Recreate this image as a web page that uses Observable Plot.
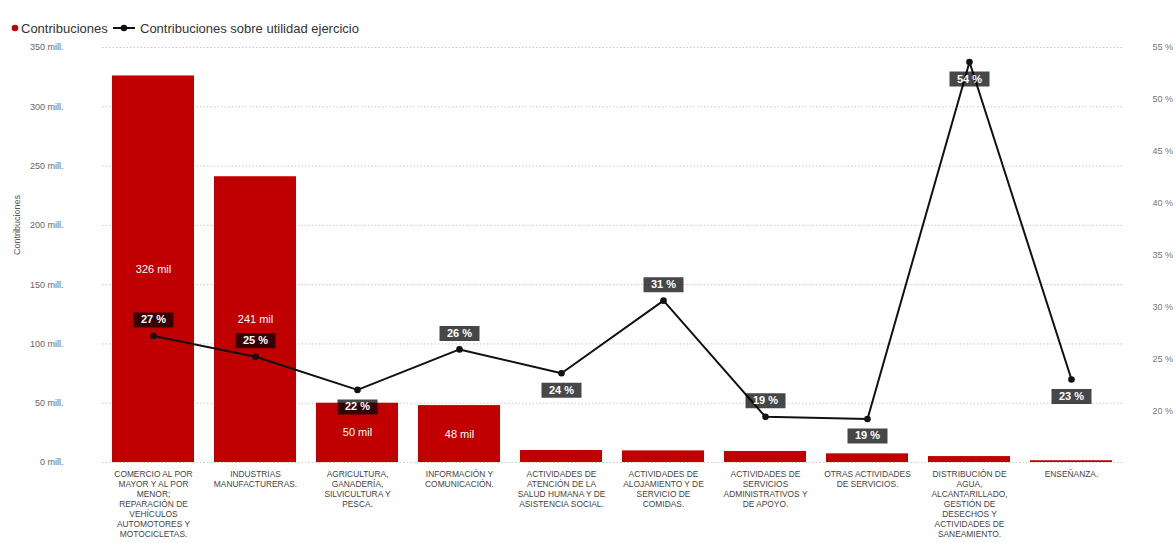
<!DOCTYPE html>
<html>
<head>
<meta charset="utf-8">
<script src="https://cdn.jsdelivr.net/npm/d3@7"></script>
<script src="https://cdn.jsdelivr.net/npm/@observablehq/plot@0.6"></script>
<style>
  html, body { margin: 0; padding: 0; background: #fff; }
  body { width: 1176px; height: 543px; overflow: hidden; font-family: "Liberation Sans", Arial, sans-serif; }
  #legend { display: block; }
  #chart svg { display: block; }
</style>
</head>
<body>
<svg id="legend" width="1176" height="40"></svg>
<div id="chart"></div>
<script>
// ---------- data ----------
const categories = [
  "COMERCIO AL POR MAYOR Y AL POR MENOR; REPARACIÓN DE VEHÍCULOS AUTOMOTORES Y MOTOCICLETAS.",
  "INDUSTRIAS MANUFACTURERAS.",
  "AGRICULTURA, GANADERÍA, SILVICULTURA Y PESCA.",
  "INFORMACIÓN Y COMUNICACIÓN.",
  "ACTIVIDADES DE ATENCIÓN DE LA SALUD HUMANA Y DE ASISTENCIA SOCIAL.",
  "ACTIVIDADES DE ALOJAMIENTO Y DE SERVICIO DE COMIDAS.",
  "ACTIVIDADES DE SERVICIOS ADMINISTRATIVOS Y DE APOYO.",
  "OTRAS ACTIVIDADES DE SERVICIOS.",
  "DISTRIBUCIÓN DE AGUA, ALCANTARILLADO, GESTIÓN DE DESECHOS Y ACTIVIDADES DE SANEAMIENTO.",
  "ENSEÑANZA."
];
const tickLabels = [
  "COMERCIO AL POR\nMAYOR Y AL POR\nMENOR;\nREPARACIÓN DE\nVEHÍCULOS\nAUTOMOTORES Y\nMOTOCICLETAS.",
  "INDUSTRIAS\nMANUFACTURERAS.",
  "AGRICULTURA,\nGANADERÍA,\nSILVICULTURA Y\nPESCA.",
  "INFORMACIÓN Y\nCOMUNICACIÓN.",
  "ACTIVIDADES DE\nATENCIÓN DE LA\nSALUD HUMANA Y DE\nASISTENCIA SOCIAL.",
  "ACTIVIDADES DE\nALOJAMIENTO Y DE\nSERVICIO DE\nCOMIDAS.",
  "ACTIVIDADES DE\nSERVICIOS\nADMINISTRATIVOS Y\nDE APOYO.",
  "OTRAS ACTIVIDADES\nDE SERVICIOS.",
  "DISTRIBUCIÓN DE\nAGUA,\nALCANTARILLADO,\nGESTIÓN DE\nDESECHOS Y\nACTIVIDADES DE\nSANEAMIENTO.",
  "ENSEÑANZA."
];
// Contribuciones (millones)
const contribuciones = [326, 241, 50, 48, 10.1, 9.8, 9.3, 7.3, 5, 1.5];
const barLabels = ["326 mil", "241 mil", "50 mil", "48 mil", "", "", "", "", "", ""];
// Contribuciones sobre utilidad ejercicio (%)
const porcentajes = [27.2, 25.2, 22.0, 25.9, 23.6, 30.6, 19.4, 19.2, 53.6, 23.0];
const pctLabels = ["27 %", "25 %", "22 %", "26 %", "24 %", "31 %", "19 %", "19 %", "54 %", "23 %"];
const leftTicks = [0, 50, 100, 150, 200, 250, 300, 350];
const rightTicks = [20, 25, 30, 35, 40, 45, 50, 55];
const leftDomain = [0, 350];
const rightDomain = [15, 55];

// ---------- legend ----------
const font = "Liberation Sans, Arial, sans-serif";
const lg = d3.select("#legend");
lg.append("circle").attr("cx", 15).attr("cy", 28).attr("r", 3.3).attr("fill", "#c00000");
lg.append("text").attr("x", 21).attr("y", 32.5).attr("font-size", 13).attr("fill", "#333")
  .attr("font-family", font).text("Contribuciones");
lg.append("line").attr("x1", 113).attr("x2", 135).attr("y1", 28).attr("y2", 28).attr("stroke", "#111").attr("stroke-width", 2);
lg.append("circle").attr("cx", 124).attr("cy", 28).attr("r", 3.3).attr("fill", "#111");
lg.append("text").attr("x", 140).attr("y", 32.5).attr("font-size", 13).attr("fill", "#333")
  .attr("font-family", font).text("Contribuciones sobre utilidad ejercicio");

// ---------- chart ----------
const S = (leftDomain[1] - leftDomain[0]) / (rightDomain[1] - rightDomain[0]);
const toY = p => (p - rightDomain[0]) * S;

const data = categories.map((c, i) => ({
  c, v: contribuciones[i], p: porcentajes[i], bl: barLabels[i], pl: pctLabels[i], tl: tickLabels[i]
}));
// label below the point for local minima and for points near the top
data.forEach((d, i) => {
  const prev = i > 0 ? porcentajes[i - 1] : -Infinity;
  const next = i < porcentajes.length - 1 ? porcentajes[i + 1] : -Infinity;
  const localMin = d.p < prev && d.p < next || (i === porcentajes.length - 1 && d.p < prev);
  d.below = localMin || d.p > rightDomain[1] - 5;
});
const above = data.filter(d => !d.below);
const below = data.filter(d => d.below);

const box = { draw(ctx) { ctx.rect(-20, -7.5, 40, 15); } };

const chart = Plot.plot({
  width: 1176,
  height: 503,
  marginTop: 7,
  marginBottom: 81,
  marginLeft: 102,
  marginRight: 54,
  style: { fontFamily: font, background: "white" },
  x: { domain: categories, paddingInner: 0.2, paddingOuter: 0.1, axis: null },
  y: { domain: leftDomain, axis: null },
  marks: [
    Plot.gridY(leftTicks, { stroke: "#c8c8c8", strokeOpacity: 1, strokeDasharray: "1.5,2", strokeWidth: 1 }),
    Plot.axisY(leftTicks, {
      anchor: "left", tickSize: 0, tickPadding: 39, fontSize: 9, fill: "#666", label: null,
      tickFormat: d => `${d} mill.`
    }),
    Plot.text(["Contribuciones"], {
      frameAnchor: "left", dx: -85, rotate: -90, fontSize: 9, fill: "#555"
    }),
    Plot.axisY(rightTicks.map(toY), {
      anchor: "right", tickSize: 0, tickPadding: 30, fontSize: 9, fill: "#777", label: null,
      textAnchor: "start", tickFormat: d => `${Math.round(d / S + rightDomain[0])} %`
    }),
    Plot.barY(data, { x: "c", y: "v", fill: "#c00000" }),
    Plot.text(data.filter(d => d.bl), {
      x: "c", y: d => d.v / 2, text: "bl", fill: "white", fontSize: 11
    }),
    Plot.text(data, {
      x: "c", y: 0, text: "tl", lineAnchor: "top", dy: 7, fontSize: 8.4, lineHeight: 1.2, fill: "#444"
    }),
    Plot.line(data, { x: "c", y: d => toY(d.p), stroke: "#111", strokeWidth: 2 }),
    Plot.dot(data, { x: "c", y: d => toY(d.p), r: 3.3, fill: "#111" }),
    Plot.dot(above, { x: "c", y: d => toY(d.p), dy: -16, symbol: box, fill: "#000", fillOpacity: 0.72 }),
    Plot.text(above, { x: "c", y: d => toY(d.p), dy: -16, text: "pl", fill: "white", fontSize: 11, fontWeight: "bold" }),
    Plot.dot(below, { x: "c", y: d => toY(d.p), dy: 17, symbol: box, fill: "#000", fillOpacity: 0.72 }),
    Plot.text(below, { x: "c", y: d => toY(d.p), dy: 17, text: "pl", fill: "white", fontSize: 11, fontWeight: "bold" })
  ]
});
document.getElementById("chart").appendChild(chart);
</script>
</body>
</html>
